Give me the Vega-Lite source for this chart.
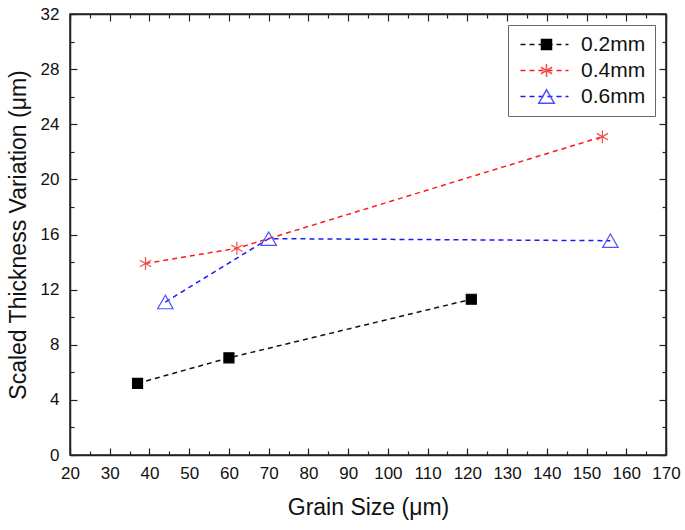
{
  "$schema": "https://vega.github.io/schema/vega-lite/v6.json",
  "width": 596,
  "height": 441,
  "autosize": "none",
  "padding": {"left": 70, "top": 14, "right": 19, "bottom": 75},
  "background": "white",
  "config": {
    "font": "Liberation Sans",
    "view": {"stroke": "#222", "strokeWidth": 1.5},
    "axis": {"grid": false, "domainColor": "#222", "domainWidth": 1.5, "tickColor": "#222", "tickWidth": 1.2, "labelFont": "Liberation Sans", "titleFont": "Liberation Sans", "labelColor": "#111", "titleColor": "#111", "labelFontSize": 17, "titleFontSize": 23, "titleFontWeight": "normal"}
  },
  "data": {"values": [
    {"series": "0.2mm", "x": 37, "y": 5.2},
    {"series": "0.2mm", "x": 60, "y": 7.05},
    {"series": "0.2mm", "x": 121, "y": 11.3},
    {"series": "0.4mm", "x": 39, "y": 13.9},
    {"series": "0.4mm", "x": 62, "y": 15.0},
    {"series": "0.4mm", "x": 154, "y": 23.1},
    {"series": "0.6mm", "x": 44, "y": 11.1},
    {"series": "0.6mm", "x": 70, "y": 15.7},
    {"series": "0.6mm", "x": 156, "y": 15.55}
  ]},
  "layer": [
    {
      "mark": {"type": "line", "strokeDash": [5, 4], "strokeWidth": 1.5},
      "encoding": {
        "x": {"field": "x", "type": "quantitative", "scale": {"domain": [20, 170], "nice": false, "zero": false},
          "axis": {"orient": "bottom", "values": [20,30,40,50,60,70,80,90,100,110,120,130,140,150,160,170], "tickSize": -7, "labelPadding": 17, "title": "Grain Size (μm)", "titlePadding": 15, "labelFlush": false}},
        "y": {"field": "y", "type": "quantitative", "scale": {"domain": [0, 32], "nice": false},
          "axis": {"orient": "left", "values": [0,4,8,12,16,20,24,28,32], "tickSize": -7, "labelPadding": 18, "title": "Scaled Thickness Variation  (μm)", "titlePadding": 10, "labelFlush": false}},
        "color": {"field": "series", "type": "nominal",
          "scale": {"domain": ["0.2mm", "0.4mm", "0.6mm"], "range": ["#111111", "#ff1a1a", "#1a1aff"]},
          "legend": {"title": null, "orient": "none", "legendX": 438, "legendY": 11, "symbolType": "M-2.5,0H2.5", "symbolSize": 369, "symbolStrokeWidth": 1.5, "symbolDash": [5, 4], "labelFontSize": 21, "labelColor": "#111", "symbolOffset": 17, "labelOffset": 26, "rowPadding": 4, "padding": 9, "fillColor": "white", "strokeColor": "#666", "labelFont": "Liberation Sans"}}
      }
    },
    {
      "mark": {"type": "point", "opacity": 1, "strokeWidth": 1.2},
      "encoding": {
        "x": {"field": "x", "type": "quantitative",
          "axis": {"orient": "top", "values": [20,30,40,50,60,70,80,90,100,110,120,130,140,150,160,170], "tickSize": -7, "labels": false, "title": null}},
        "y": {"field": "y", "type": "quantitative",
          "axis": {"orient": "right", "values": [0,4,8,12,16,20,24,28,32], "tickSize": -7, "labels": false, "title": null}},
        "shape": {"field": "series", "type": "nominal",
          "scale": {"domain": ["0.2mm", "0.4mm", "0.6mm"], "range": ["square", "M0,-1L0,1M-0.87,-0.5L0.87,0.5M-0.87,0.5L0.87,-0.5", "triangle-up"]},
          "legend": {"title": null, "orient": "none", "legendX": 438, "legendY": 11, "labelFontSize": 21, "labelExpr": "''", "symbolOffset": 19, "rowPadding": 4, "padding": 9, "labelOffset": 8}},
        "fill": {"field": "series", "type": "nominal",
          "scale": {"domain": ["0.2mm", "0.4mm", "0.6mm"], "range": ["#000000", "transparent", "transparent"]},
          "legend": {"title": null, "orient": "none", "legendX": 438, "legendY": 11, "labelFontSize": 21, "labelExpr": "''", "symbolOffset": 19, "rowPadding": 4, "padding": 9, "labelOffset": 8}},
        "stroke": {"field": "series", "type": "nominal",
          "scale": {"domain": ["0.2mm", "0.4mm", "0.6mm"], "range": ["#000000", "#f05050", "#5050ff"]},
          "legend": {"title": null, "orient": "none", "legendX": 438, "legendY": 11, "labelFontSize": 21, "labelExpr": "''", "symbolOffset": 19, "rowPadding": 4, "padding": 9, "labelOffset": 8}},
        "size": {"field": "series", "type": "nominal",
          "scale": {"domain": ["0.2mm", "0.4mm", "0.6mm"], "range": [100, 240, 170]},
          "legend": {"title": null, "orient": "none", "legendX": 438, "legendY": 11, "labelFontSize": 21, "labelExpr": "''", "symbolOffset": 19, "rowPadding": 4, "padding": 9, "labelOffset": 8}}
      }
    },
    {
      "mark": {"type": "point", "opacity": 0},
      "encoding": {
        "x": {"field": "x", "type": "quantitative",
          "axis": {"orient": "bottom", "values": [25,35,45,55,65,75,85,95,105,115,125,135,145,155,165], "tickSize": -4, "labels": false, "domain": false, "title": null}},
        "y": {"field": "y", "type": "quantitative",
          "axis": {"orient": "left", "values": [2,6,10,14,18,22,26,30], "tickSize": -4, "labels": false, "domain": false, "title": null}}
      }
    },
    {
      "mark": {"type": "point", "opacity": 0},
      "encoding": {
        "x": {"field": "x", "type": "quantitative",
          "axis": {"orient": "top", "values": [25,35,45,55,65,75,85,95,105,115,125,135,145,155,165], "tickSize": -4, "labels": false, "domain": false, "title": null}},
        "y": {"field": "y", "type": "quantitative",
          "axis": {"orient": "right", "values": [2,6,10,14,18,22,26,30], "tickSize": -4, "labels": false, "domain": false, "title": null}}
      }
    }
  ],
  "resolve": {"axis": {"x": "independent", "y": "independent"}, "scale": {"color": "independent", "shape": "independent", "fill": "independent", "stroke": "independent", "size": "independent"}}
}
